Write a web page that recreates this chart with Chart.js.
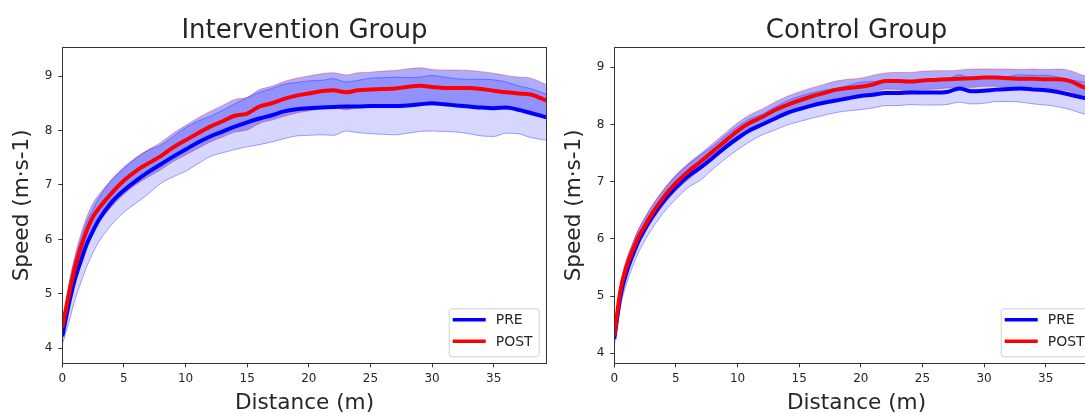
<!DOCTYPE html>
<html>
<head>
<meta charset="utf-8">
<script src="https://cdn.jsdelivr.net/npm/chart.js@4.4.1/dist/chart.umd.min.js"></script>
<style>
  html, body { margin: 0; padding: 0; background: #fff; width: 1085px; height: 414px; overflow: hidden; }
  canvas { position: absolute; top: 0; }
</style>
</head>
<body>
<canvas id="chartIntervention" width="560" height="414" style="left:0"></canvas>
<canvas id="chartControl" width="560" height="414" style="left:552px"></canvas>
<script>
// ── Data ─────────────────────────────────────────────────────────────────────
const distance = [0, 0.5, 1, 1.5, 2, 2.5, 3, 4, 5, 6, 7, 8, 9, 10, 11, 12, 13, 14, 15, 16, 17, 18,
  19, 20, 21, 22, 23, 24, 25, 26, 27, 28, 29, 30, 31, 32, 33, 34, 35, 36, 37, 38, 39.3];

const xTicks = [0, 5, 10, 15, 20, 25, 30, 35];
const yTicks = [4, 5, 6, 7, 8, 9];
const legendLabels = ['PRE', 'POST'];

// Intervention group
const intPreMean = [4.22, 4.78, 5.25, 5.60, 5.92, 6.16,
  6.37, 6.68, 6.90, 7.08, 7.24, 7.38, 7.52, 7.65, 7.78, 7.89,
  7.98, 8.07, 8.15, 8.22, 8.28, 8.35, 8.39, 8.41, 8.42, 8.43,
  8.44, 8.44, 8.45, 8.45, 8.45, 8.46, 8.48, 8.50, 8.48, 8.46,
  8.44, 8.42, 8.41, 8.42, 8.38, 8.32, 8.24];
const intPreSd = [0.15, 0.33, 0.38, 0.40, 0.41, 0.40,
  0.40, 0.41, 0.40, 0.41, 0.40, 0.35, 0.37, 0.40, 0.39, 0.37,
  0.39, 0.42, 0.45, 0.48, 0.49, 0.50, 0.49, 0.50, 0.50, 0.52,
  0.45, 0.48, 0.51, 0.52, 0.53, 0.51, 0.50, 0.51, 0.50, 0.49,
  0.50, 0.52, 0.52, 0.47, 0.44, 0.45, 0.42];
const intPostMean = [4.38, 4.95, 5.45, 5.85, 6.17, 6.42,
  6.58, 6.85, 7.08, 7.26, 7.40, 7.53, 7.69, 7.82, 7.95, 8.07,
  8.17, 8.27, 8.31, 8.44, 8.50, 8.58, 8.64, 8.68, 8.72, 8.74,
  8.70, 8.74, 8.75, 8.76, 8.77, 8.80, 8.82, 8.80, 8.78, 8.78,
  8.78, 8.76, 8.73, 8.70, 8.68, 8.66, 8.55];
const intPostSd = [0.12, 0.20, 0.22, 0.24, 0.25, 0.25,
  0.25, 0.25, 0.25, 0.25, 0.25, 0.25, 0.26, 0.27, 0.28, 0.28,
  0.29, 0.30, 0.30, 0.31, 0.31, 0.32, 0.32, 0.32, 0.32, 0.32,
  0.32, 0.32, 0.32, 0.33, 0.33, 0.33, 0.33, 0.32, 0.33, 0.33,
  0.32, 0.32, 0.32, 0.31, 0.30, 0.30, 0.29];

// Control group
const ctlPreMean = [4.25, 5.00, 5.42, 5.72, 5.98, 6.18,
  6.36, 6.66, 6.90, 7.10, 7.25, 7.42, 7.60, 7.76, 7.90, 8.00,
  8.10, 8.20, 8.27, 8.33, 8.38, 8.42, 8.46, 8.50, 8.52, 8.55,
  8.55, 8.56, 8.56, 8.56, 8.57, 8.63, 8.58, 8.59, 8.61, 8.62,
  8.63, 8.61, 8.60, 8.57, 8.52, 8.47, 8.40];
const ctlPreSd = [0.12, 0.18, 0.20, 0.20, 0.20, 0.20,
  0.20, 0.20, 0.20, 0.20, 0.22, 0.20, 0.20, 0.20, 0.20, 0.18,
  0.20, 0.21, 0.22, 0.22, 0.22, 0.21, 0.22, 0.24, 0.23, 0.22,
  0.22, 0.21, 0.22, 0.22, 0.22, 0.24, 0.22, 0.22, 0.21, 0.22,
  0.24, 0.25, 0.26, 0.26, 0.26, 0.28, 0.28];
const ctlPostMean = [4.31, 5.10, 5.52, 5.80, 6.05, 6.24,
  6.42, 6.73, 6.98, 7.18, 7.35, 7.53, 7.71, 7.89, 8.03, 8.13,
  8.25, 8.34, 8.42, 8.49, 8.55, 8.61, 8.64, 8.66, 8.70, 8.76,
  8.76, 8.75, 8.77, 8.78, 8.79, 8.80, 8.81, 8.82, 8.82, 8.81,
  8.80, 8.80, 8.79, 8.79, 8.76, 8.66, 8.58];
const ctlPostSd = [0.10, 0.12, 0.13, 0.13, 0.13, 0.13,
  0.13, 0.13, 0.14, 0.14, 0.14, 0.14, 0.14, 0.14, 0.14, 0.14,
  0.14, 0.15, 0.15, 0.15, 0.15, 0.15, 0.15, 0.15, 0.16, 0.14,
  0.15, 0.16, 0.16, 0.16, 0.15, 0.15, 0.16, 0.15, 0.15, 0.16,
  0.16, 0.17, 0.17, 0.18, 0.18, 0.20, 0.20];

// ── Styling ──────────────────────────────────────────────────────────────────
const FONT = '"DejaVu Sans", "Liberation Sans", sans-serif';
const TEXT = '#262626';
const BLUE = '#0000ff';
const RED  = '#ff0000';

const pts = (ys) => distance.map((d, i) => ({ x: d, y: ys[i] }));

function band(mean, sd, fillColor, edgeColor, order) {
  const edge = { borderColor: edgeColor, borderWidth: 1, pointRadius: 0, order,
                 cubicInterpolationMode: 'monotone' };
  return [
    { ...edge, data: pts(mean.map((m, i) => m - sd[i])), fill: false },
    { ...edge, data: pts(mean.map((m, i) => m + sd[i])), fill: '-1', backgroundColor: fillColor },
  ];
}

function meanLine(mean, color, order) {
  return { data: pts(mean), borderColor: color, borderWidth: 4, pointRadius: 0, fill: false, order,
           cubicInterpolationMode: 'monotone' };
}

// frame, panel title and lower-right legend
const panelDecor = {
  id: 'panelDecor',
  afterDraw(chart, args, opts) {
    const { ctx, chartArea: a } = chart;
    ctx.save();
    ctx.strokeStyle = '#333';
    ctx.lineWidth = 1;
    ctx.strokeRect(Math.round(a.left) + 0.5, Math.round(a.top) + 0.5,
                   Math.round(a.right - a.left), Math.round(a.bottom - a.top));

    ctx.fillStyle = TEXT;
    ctx.font = `26px ${FONT}`;
    ctx.textAlign = 'center';
    ctx.textBaseline = 'middle';
    ctx.fillText(opts.title, (a.left + a.right) / 2, 31);

    const w = 90, h = 48;
    const bx = a.right - 8 - w, by = a.bottom - 7 - h;
    ctx.beginPath();
    ctx.roundRect(bx + 0.5, by + 0.5, w, h, 3);
    ctx.fillStyle = 'rgba(255,255,255,0.8)';
    ctx.fill();
    ctx.strokeStyle = '#d0d0d0';
    ctx.stroke();

    const colors = [BLUE, RED];
    ctx.font = `14px ${FONT}`;
    ctx.textAlign = 'left';
    legendLabels.forEach((lbl, i) => {
      const y = by + 11.5 + i * 21.5;
      ctx.strokeStyle = colors[i];
      ctx.lineWidth = 3.5;
      ctx.beginPath();
      ctx.moveTo(bx + 4, y);
      ctx.lineTo(bx + 37, y);
      ctx.stroke();
      ctx.fillStyle = TEXT;
      ctx.fillText(lbl, bx + 47, y + 1);
    });
    ctx.restore();
  },
};

function makeChart(id, title, yMin, yMax, preMean, preSd, postMean, postSd) {
  return new Chart(document.getElementById(id), {
    type: 'line',
    data: {
      datasets: [
        ...band(preMean, preSd, 'rgba(0,0,255,0.16)', 'rgba(0,0,255,0.35)', 3),
        ...band(postMean, postSd, 'rgba(0,0,255,0.32)', 'rgba(255,0,0,0.35)', 2),
        meanLine(preMean, BLUE, 1),
        meanLine(postMean, RED, 0),
      ],
    },
    options: {
      responsive: false, animation: false,
      layout: { padding: { left: 0, top: 47.3, right: 13.3, bottom: 0 } },
      plugins: {
        legend: { display: false },
        tooltip: { enabled: false },
        panelDecor: { title },
      },
      scales: {
        x: {
          type: 'linear', min: 0, max: 39.3,
          afterBuildTicks: (s) => { s.ticks = xTicks.map(v => ({ value: v })); },
          afterFit: (s) => { s.height = 50.7; },
          ticks: { color: TEXT, font: { family: FONT, size: 12 }, padding: 4, maxRotation: 0 },
          grid: { drawOnChartArea: false, tickLength: 4, color: '#333' },
          border: { display: false },
          title: { display: true, text: 'Distance (m)', color: TEXT,
                   font: { family: FONT, size: 21.6, lineHeight: 1 }, padding: { top: 0, bottom: 0 } },
        },
        y: {
          type: 'linear', min: yMin, max: yMax,
          afterBuildTicks: (s) => { s.ticks = yTicks.map(v => ({ value: v })); },
          afterFit: (s) => { s.width = 62.3; },
          ticks: { color: TEXT, font: { family: FONT, size: 12 }, padding: 6 },
          grid: { drawOnChartArea: false, tickLength: 4, color: '#333' },
          border: { display: false },
          title: { display: true, text: 'Speed (m·s-1)', color: TEXT,
                   font: { family: FONT, size: 21.6, lineHeight: 1 }, padding: { top: 12, bottom: 0 } },
        },
      },
    },
    plugins: [panelDecor],
  });
}

makeChart('chartIntervention', 'Intervention Group', 3.725, 9.527,
          intPreMean, intPreSd, intPostMean, intPostSd);
makeChart('chartControl', 'Control Group', 3.825, 9.35,
          ctlPreMean, ctlPreSd, ctlPostMean, ctlPostSd);
</script>
</body>
</html>
